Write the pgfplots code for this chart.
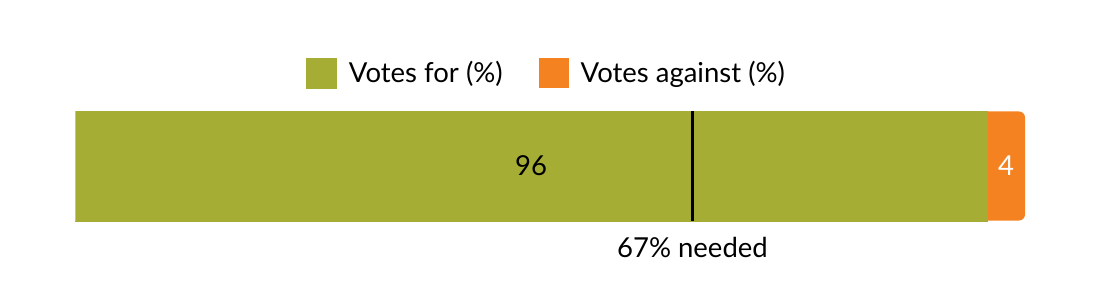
\documentclass[border=0pt]{standalone}
\usepackage{pgfplots}
\pgfplotsset{compat=1.18}
\usepackage{fontspec}
\setmainfont{Lato}
\definecolor{vfor}{HTML}{A6AD34}
\definecolor{vagainst}{HTML}{F58220}
\begin{document}
\begin{tikzpicture}
\path[use as bounding box] (-75pt,-79pt) rectangle (1025pt,221pt);
\begin{axis}[
  at={(0pt,0pt)}, anchor=south west,
  scale only axis, width=950pt, height=110pt,
  xmin=0, xmax=100, ymin=-0.5, ymax=0.5,
  axis lines=none, clip=false,
  xbar, bar width=110pt, bar shift=0pt,
  legend columns=2,
  legend style={draw=none, fill=none, at={(rel axis cs:0.4965,1.345)}, anchor=center,
    font=\fontsize{27.5}{31}\selectfont,
    /tikz/every even column/.append style={column sep=34pt}},
  legend image code/.code={\fill[#1] (0pt,-15pt) rectangle (30pt,15pt);},
  legend cell align=left,
]
% Votes against (%) = 4, drawn behind as full bar 96+4 = 100 with rounded right end
\addplot[fill=vagainst, draw=none, rounded corners=6pt, forget plot, bar width=109pt] coordinates {(100,0)};
% Votes for (%) = 96
\addplot[fill=vfor, draw=vfor, line width=0.6pt] coordinates {(96,0)};
\addlegendentry{\hspace{10pt}Votes for (\%)}
\addlegendimage{fill=vagainst, draw=none}
\addlegendentry{\hspace{10pt}Votes against (\%)}
\draw[gray!50, line width=1pt] (axis cs:0,-0.5) -- (axis cs:0,0.5);
\draw[black, line width=2.5pt] (axis cs:65,-0.5) -- (axis cs:65,0.5);
\node[font=\fontsize{27.5}{31}\selectfont] at (axis cs:48,0) {96};
\node[font=\fontsize{27.5}{31}\selectfont, text=white] at (axis cs:98,0) {4};
\node[font=\fontsize{27.5}{31}\selectfont, anchor=center, yshift=-26pt] at (axis cs:65,-0.5) {67\% needed};
\end{axis}
\end{tikzpicture}
\end{document}
